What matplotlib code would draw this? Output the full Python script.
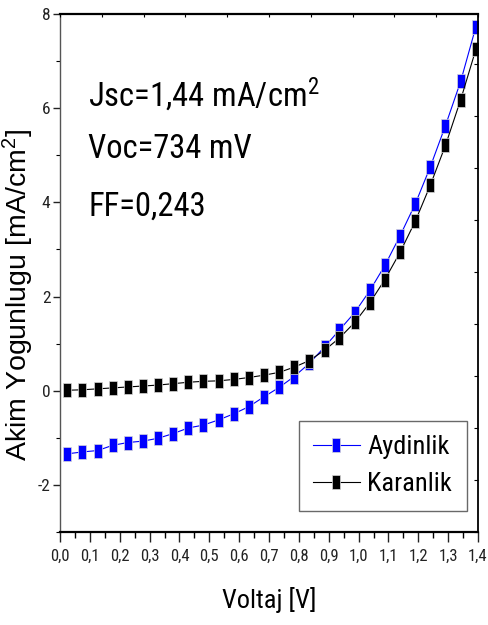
import numpy as np
import matplotlib
matplotlib.use("Agg")
import matplotlib.pyplot as plt
from matplotlib import font_manager
from matplotlib.ticker import FixedLocator, FuncFormatter, MultipleLocator
from matplotlib.path import Path

# Voltage sweep points (V)
voltage = [0.024, 0.075, 0.126, 0.176, 0.227, 0.278, 0.328, 0.379, 0.430, 0.480,
           0.531, 0.582, 0.632, 0.683, 0.734, 0.784, 0.835, 0.886, 0.936, 0.987,
           1.038, 1.088, 1.139, 1.190, 1.240, 1.291, 1.342, 1.393]

# Current density under illumination (mA/cm2)
j_light = [-1.34, -1.30, -1.27, -1.16, -1.10, -1.07, -1.01, -0.91, -0.79, -0.73,
           -0.62, -0.49, -0.34, -0.13, 0.07, 0.30, 0.58, 0.93, 1.29, 1.66,
           2.13, 2.66, 3.29, 3.97, 4.75, 5.63, 6.57, 7.73]

# Current density in the dark (mA/cm2)
j_dark = [0.01, 0.02, 0.04, 0.06, 0.08, 0.10, 0.12, 0.15, 0.18, 0.20,
          0.21, 0.24, 0.28, 0.33, 0.39, 0.50, 0.64, 0.86, 1.12, 1.45,
          1.87, 2.36, 2.94, 3.60, 4.36, 5.21, 6.18, 7.25]

series_names = ["Aydinlik", "Karanlik"]
series_colors = ["#0000ff", "#000000"]

x_ticks = [0.0, 0.1, 0.2, 0.3, 0.4, 0.5, 0.6, 0.7, 0.8, 0.9, 1.0, 1.1, 1.2, 1.3, 1.4]
y_ticks = [-2, 0, 2, 4, 6, 8]

param_lines = ["Jsc=1,44 mA/cm$\\mathregular{^2}$", "Voc=734 mV", "FF=0,243"]

available = {f.name for f in font_manager.fontManager.ttflist}
narrow = "Roboto Condensed" if "Roboto Condensed" in available else "Liberation Sans"
regular = "Liberation Sans"

plt.rcParams["axes.unicode_minus"] = False
plt.rcParams["mathtext.default"] = "regular"
plt.rcParams["font.family"] = [narrow, "DejaVu Sans"]

fig = plt.figure(figsize=(4.88, 6.25), dpi=100)
ax = fig.add_axes([0.123, 0.1488, 0.8565, 0.8288])

# tall rectangular marker
rect = Path([(-0.28, -0.5), (0.28, -0.5), (0.28, 0.5), (-0.28, 0.5), (-0.28, -0.5)],
            [Path.MOVETO, Path.LINETO, Path.LINETO, Path.LINETO, Path.CLOSEPOLY])

for ys, name, col in zip([j_light, j_dark], series_names, series_colors):
    ax.plot(voltage, ys, color=col, lw=0.8, marker=rect, markersize=9.5,
            markerfacecolor=col, markeredgecolor="#d8d8d8", markeredgewidth=0.5,
            label=name)

ax.set_xlim(0.0, 1.4)
ax.set_ylim(-3, 8)

ax.xaxis.set_major_locator(FixedLocator(x_ticks))
ax.xaxis.set_minor_locator(MultipleLocator(0.05))
ax.yaxis.set_major_locator(FixedLocator(y_ticks))
ax.yaxis.set_minor_locator(MultipleLocator(1))
ax.xaxis.set_major_formatter(FuncFormatter(lambda v, p: f"{v:.1f}".replace(".", ",")))
ax.yaxis.set_major_formatter(FuncFormatter(lambda v, p: f"{v:.0f}"))

ax.tick_params(axis="x", which="major", direction="out", length=7, width=1.0,
               labelsize=12, pad=5, colors="#222222")
ax.tick_params(axis="x", which="minor", direction="out", length=4, width=1.0)
ax.tick_params(axis="y", which="major", direction="out", length=5, width=1.0,
               labelsize=12.5, pad=2, colors="#222222")
ax.tick_params(axis="y", which="minor", direction="out", length=3, width=0.8)
ax.tick_params(top=False, right=False)

ax.spines["left"].set_color("#555555")
ax.spines["left"].set_linewidth(1.0)
ax.spines["bottom"].set_linewidth(1.6)
ax.spines["top"].set_linewidth(1.6)
ax.spines["right"].set_linewidth(1.3)

# small inward ticks on the opposite frame edges
axr = ax.twinx()
axr.set_ylim(0, 9.96)
axr.yaxis.set_major_locator(MultipleLocator(1))
axr.tick_params(axis="y", direction="in", length=3, width=0.8, labelright=False)
axt = ax.twiny()
axt.set_xlim(0, 10)
axt.xaxis.set_major_locator(MultipleLocator(1))
axt.tick_params(axis="x", direction="in", length=2, width=0.8, labeltop=False)
for a in (axr, axt):
    for s in a.spines.values():
        s.set_visible(False)

ax.set_xlabel("Voltaj [V]", fontsize=19, labelpad=17)
ax.set_ylabel("Akim Yogunlugu [mA/cm$\\mathregular{^2}$]", fontsize=20.5,
              family=[regular, "DejaVu Sans"])
ax.yaxis.set_label_coords(-0.058, 0.457)

for text, yv in zip(param_lines, [6.03, 4.95, 3.72]):
    ax.text(0.094, yv, text, fontsize=23.5, va="baseline", ha="left")

leg = ax.legend(loc="lower right", bbox_to_anchor=(0.973, 0.041), fontsize=19,
                frameon=True, fancybox=False, handlelength=1.75, handletextpad=0.3,
                borderpad=0.55, labelspacing=0.5, borderaxespad=0.0)
leg.get_frame().set_edgecolor("#444444")
leg.get_frame().set_linewidth(1.0)

fig.savefig("out.png", dpi=100)
